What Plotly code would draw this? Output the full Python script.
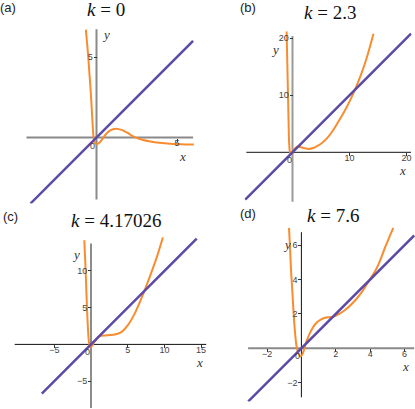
import plotly.graph_objects as go

W, H = 415, 409
ORANGE = "#F98C2E"
PURPLE = "#5B4AA6"

# orange curves, points
a_x = [-0.66, -0.57, -0.49, -0.42, -0.35, -0.29, -0.24, -0.19, -0.12, 0.0, 0.18, 0.35, 0.6, 0.85, 1.2, 1.6, 1.9, 2.3, 2.8, 3.35, 3.9, 4.4, 5.0, 5.6, 6.05]
a_y = [6.7, 5.7, 4.7, 3.7, 2.7, 1.7, 0.8, 0.1, -0.28, -0.42, -0.32, -0.12, 0.22, 0.45, 0.55, 0.46, 0.3, 0.06, -0.12, -0.25, -0.33, -0.37, -0.41, -0.43, -0.44]

b_x = [-1.03, -0.92, -0.79, -0.69, -0.6, -0.5, -0.4, -0.2, 0.0, 0.25, 0.6, 1.0, 1.5, 2.2, 2.9, 3.6, 4.3, 5.0, 6.0, 7.0, 8.0, 9.0, 10.0, 11.0, 12.0, 13.0, 14.2]
b_y = [21.2, 16.0, 10.0, 5.5, 1.9, 0.4, -0.15, -0.32, -0.2, 0.4, 0.85, 1.0, 0.9, 0.7, 0.6, 0.75, 1.1, 1.5, 2.4, 3.7, 5.3, 7.0, 8.9, 11.1, 13.6, 16.5, 20.8]

c_x = [-0.91, -0.82, -0.73, -0.64, -0.55, -0.47, -0.4, -0.3, -0.18, 0.0, 0.3, 0.7, 1.0, 1.4, 2.0, 3.0, 4.0, 5.0, 6.0, 7.0, 8.0, 9.0, 9.8]
c_y = [14.2, 12.1, 10.1, 7.5, 5.1, 3.2, 1.9, 0.5, -0.2, -0.4, 0.1, 0.62, 1.0, 1.18, 1.22, 1.3, 1.6, 2.6, 4.3, 6.6, 9.2, 12.0, 14.6]

d_x = [-0.72, -0.66, -0.6, -0.52, -0.45, -0.36, -0.26, -0.15, -0.03, 0.1, 0.21, 0.35, 0.55, 0.8, 1.1, 1.5, 1.8, 2.1, 2.5, 3.0, 3.5, 3.95, 4.4, 4.9, 5.34]
d_y = [7.0, 5.8, 4.5, 3.2, 2.0, 0.8, 0.0, -0.35, -0.47, -0.25, 0.15, 0.55, 1.0, 1.4, 1.65, 1.8, 1.82, 1.95, 2.2, 2.65, 3.25, 3.95, 4.7, 5.95, 7.0]

# the line y = x, drawn over these x spans
line_a = [-4.1, 6.0]
line_b = [-8.3, 20.8]
line_c = [-6.7, 14.4]
line_d = [-3.1, 6.56]

k_values = ["0", "2.3", "4.17026", "7.6"]
tags = ["(a)", "(b)", "(c)", "(d)"]

ticks_a = ([5], [5])
ticks_b = ([10, 20], [10, 20])
ticks_c = ([-5, 5, 10, 15], [-5, 5, 10])
ticks_d = ([-2, 2, 4, 6], [-2, 2, 4, 6])

# layout of each panel: origin in px, px per unit, plot ranges, axis extents
panels = [
    dict(cx=a_x, cy=a_y, line=line_a, ticks=ticks_a, ox=96.5, oy=137.5, s=16.1,
         xr=[-4.4, 6.05], yr=[-4.1, 6.8], xax=[-4.35, 6.0], yax=[-3.85, 6.73],
         xcol="#8a8a8a", xw=2, ycol="#8a8a8a", yw=2,
         tag=(8, 7), title=(105.5, 9.5), lx=(182.7, 156), ly=(106, 34)),
    dict(cx=b_x, cy=b_y, line=line_b, ticks=ticks_b, ox=292.5, oy=152.3, s=5.7,
         xr=[-8.4, 20.9], yr=[-8.8, 21.4], xax=[-8.1, 20.8], yax=[-8.67, 20.4],
         xcol="#111111", xw=1, ycol="#9a9a9a", yw=2,
         tag=(248, 8), title=(330, 12.5), lx=(402, 170), ly=(275.3, 49.3)),
    dict(cx=c_x, cy=c_y, line=line_c, ticks=ticks_c, ox=91, oy=344.4, s=7.34,
         xr=[-10.5, 15.8], yr=[-8.75, 14.6], xax=[-10.4, 15.7], yax=[-8.65, 13.75],
         xcol="#111111", xw=1, ycol="#666666", yw=1.5,
         tag=(10, 216), title=(116, 220.5), lx=(199, 362), ly=(76, 254.7)),
    dict(cx=d_x, cy=d_y, line=line_d, ticks=ticks_d, ox=301.4, oy=348.3, s=17.2,
         xr=[-3.15, 6.6], yr=[-3.1, 7.1], xax=[-3.1, 6.56], yax=[-2.85, 6.75],
         xcol="#8a8a8a", xw=2, ycol="#111111", yw=1,
         tag=(248, 213), title=(333, 215), lx=(405, 366), ly=(287, 244)),
]


def px(x, y):
    return x / W, 1 - y / H


fig = go.Figure()
annotations = []
tickfont = dict(family="Liberation Sans", size=9, color="#444444")

for i, p in enumerate(panels):
    n = "" if i == 0 else str(i + 1)
    xa, ya = "x" + n, "y" + n
    s = p["s"]

    fig.add_trace(go.Scatter(x=p["cx"], y=p["cy"], mode="lines", line_shape="spline",
                             line=dict(color=ORANGE, width=2), xaxis=xa, yaxis=ya))
    fig.add_trace(go.Scatter(x=p["line"], y=p["line"], mode="lines",
                             line=dict(color=PURPLE, width=2.5), xaxis=xa, yaxis=ya))

    xd = [(p["ox"] + p["xr"][0] * s) / W, (p["ox"] + p["xr"][1] * s) / W]
    yd = [1 - (p["oy"] - p["yr"][0] * s) / H, 1 - (p["oy"] - p["yr"][1] * s) / H]
    common = dict(showgrid=False, zeroline=False, showline=False, ticks="outside",
                  ticklen=3, tickwidth=1, tickcolor="#333333", tickfont=tickfont,
                  anchor="free", fixedrange=True)
    fig.update_layout(**{
        "xaxis" + n: dict(domain=xd, range=p["xr"], position=1 - p["oy"] / H,
                          tickvals=p["ticks"][0], ticklabelstandoff=-6, **common),
        "yaxis" + n: dict(domain=yd, range=p["yr"], position=p["ox"] / W,
                          tickvals=p["ticks"][1], ticklabelstandoff=-1, **common),
    })

    # axes through the origin
    fig.add_shape(type="line", xref=xa, yref=ya, x0=p["xax"][0], x1=p["xax"][1], y0=0, y1=0,
                  line=dict(color=p["xcol"], width=p["xw"]), layer="below")
    fig.add_shape(type="line", xref=xa, yref=ya, x0=0, x1=0, y0=p["yax"][0], y1=p["yax"][1],
                  line=dict(color=p["ycol"], width=p["yw"]), layer="below")

    annotations.append(dict(x=0, y=0, xref=xa, yref=ya, text="0", showarrow=False,
                            xanchor="right", yanchor="top", xshift=1, yshift=-1, font=tickfont))

    tx, ty = px(*p["tag"])
    annotations.append(dict(x=tx, y=ty, xref="paper", yref="paper", text=tags[i],
                            showarrow=False, xanchor="center", yanchor="middle",
                            font=dict(family="Liberation Sans", size=13, color="#222222")))
    tx, ty = px(*p["title"])
    annotations.append(dict(x=tx, y=ty, xref="paper", yref="paper",
                            text="<i>k</i> = " + k_values[i], showarrow=False,
                            xanchor="center", yanchor="middle",
                            font=dict(family="Liberation Serif", size=19, color="#111111")))
    for lab, pos in (("x", p["lx"]), ("y", p["ly"])):
        tx, ty = px(*pos)
        annotations.append(dict(x=tx, y=ty, xref="paper", yref="paper", text="<i>" + lab + "</i>",
                                showarrow=False, xanchor="center", yanchor="middle",
                                font=dict(family="Liberation Serif", size=13, color="#333333")))

fig.update_layout(width=W, height=H, margin=dict(l=0, r=0, t=0, b=0),
                  paper_bgcolor="white", plot_bgcolor="white", showlegend=False,
                  annotations=annotations)

# drop the page's default body margin so the figure sits at the top-left corner
fig.write_html("out.html", config={"displayModeBar": False},
               post_script="document.body.style.margin = '0';")
